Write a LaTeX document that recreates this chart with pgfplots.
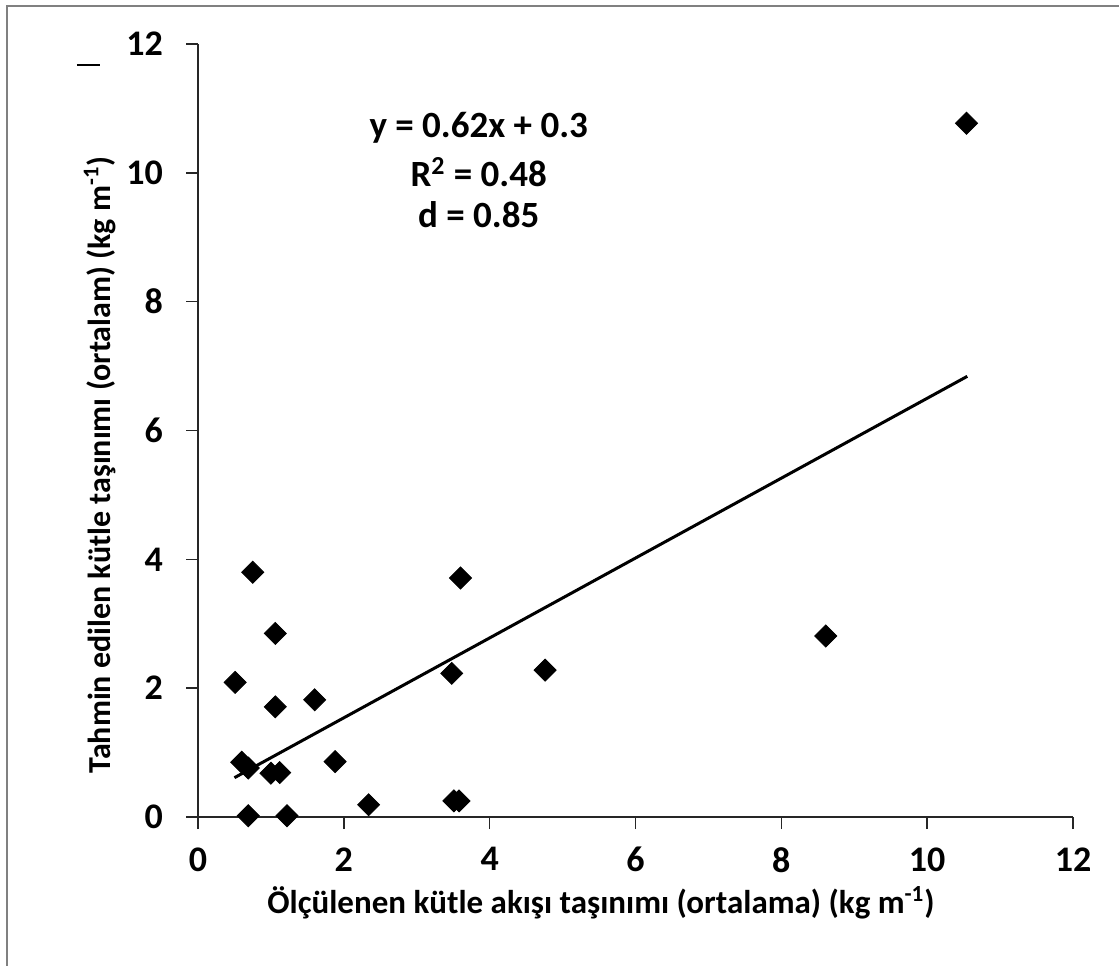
\documentclass[border=0pt]{standalone}
\usepackage{pgfplots}
\pgfplotsset{compat=1.18}
\usepackage{fontspec}
\setmainfont{Carlito}

% measured vs. predicted mass transport
\pgfplotstableread{
x     y
0.75  3.80
3.60  3.71
1.06  2.85
0.51  2.09
3.48  2.23
4.76  2.28
1.06  1.71
1.60  1.82
0.60  0.85
0.69  0.76
1.00  0.68
1.12  0.69
1.88  0.86
2.34  0.19
3.51  0.25
3.58  0.25
0.69  0.02
1.22  0.02
8.61  2.81
10.54 10.77
}\obsdata

\begin{document}
\begin{tikzpicture}[x=0.5pt,y=0.5pt]
\path[use as bounding box] (-198,-148) rectangle (921,817);
\clip (-198,-148) rectangle (921,817);
% outer frame
\draw[line width=1pt, draw=black!50] (-191,811) rectangle (940,-170);
\draw[line width=1pt] (-121,752) -- (-98,752);
\begin{axis}[
  at={(0,0)}, anchor=south west,
  scale only axis, width=437.5pt, height=386.5pt,
  xmin=0, xmax=12, ymin=0, ymax=12,
  xtick={0,2,...,12}, ytick={0,2,...,12},
  axis lines=left,
  axis line style={-, line width=0.75pt, black!85},
  tick style={line width=0.75pt, black!85},
  major tick length=6pt, tick align=outside,
  /pgf/number format/assume math mode=true,
  ticklabel style={font=\fontsize{18}{21}\selectfont\bfseries},
  xticklabel style={yshift=-8pt, inner sep=1pt},
  yticklabel style={xshift=-8pt},
  clip=false,
]
\addplot[only marks, mark=square*, mark size=3.9pt,
  mark options={rotate=45, fill=black, draw=black}] table[x=x,y=y] {\obsdata};
\addplot[black, line width=1.5pt] coordinates {(0.5,0.61) (10.55,6.841)};
\node[font=\fontsize{18.5}{21}\selectfont\bfseries] at (axis cs:3.85,10.70) {y = 0.62x + 0.3};
\node[font=\fontsize{18.5}{21}\selectfont\bfseries] at (axis cs:3.85,10.01) {R\textsuperscript{2} = 0.48};
\node[font=\fontsize{18.5}{21}\selectfont\bfseries] at (axis cs:3.85,9.35) {d = 0.85};
\end{axis}
\node[font=\fontsize{16.5}{19}\selectfont\bfseries, inner sep=1pt] at (403,-86)
  {Ölçülenen kütle akışı taşınımı (ortalama) (kg m\textsuperscript{-1})};
\node[font=\fontsize{16}{19}\selectfont\bfseries, rotate=90] at (-98,352)
  {Tahmin edilen kütle taşınımı (ortalam) (kg m\textsuperscript{-1})};
\end{tikzpicture}
\end{document}
